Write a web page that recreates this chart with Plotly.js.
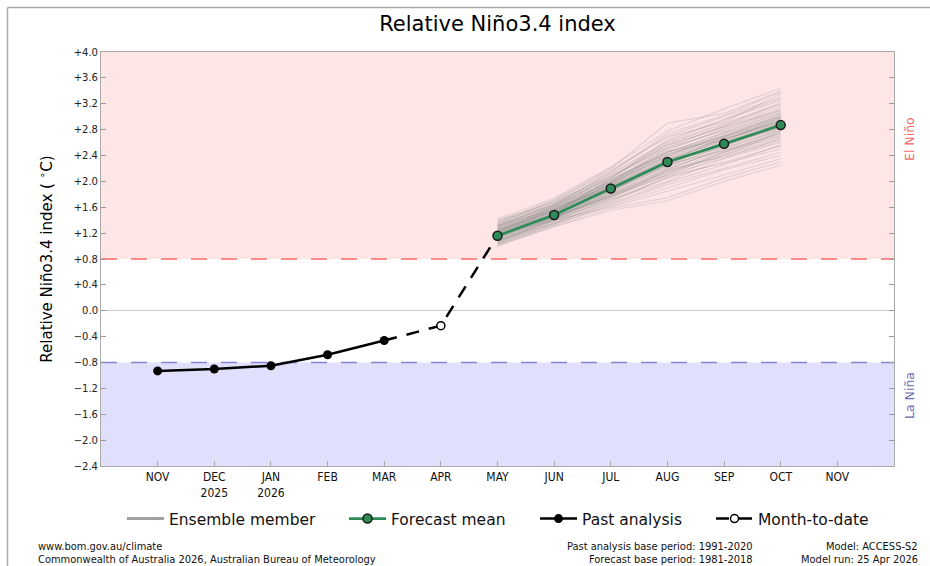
<!DOCTYPE html>
<html>
<head>
<meta charset="utf-8">
<script src="https://cdn.plot.ly/plotly-3.0.1.min.js"></script>
<style>
html,body{margin:0;padding:0;background:#fff;}
#chart{width:930px;height:566px;}
</style>
</head>
<body>
<div id="chart"></div>
<script>
// ---- data ----
var monthKeys = ['Nov 2025','Dec 2025','Jan 2026','Feb 2026','Mar 2026','Apr 2026','May 2026','Jun 2026','Jul 2026','Aug 2026','Sep 2026','Oct 2026','Nov 2026'];
var monthLabels = ['NOV','DEC<br>2025','JAN<br>2026','FEB','MAR','APR','MAY','JUN','JUL','AUG','SEP','OCT','NOV'];

var pastMonths = ['Nov 2025','Dec 2025','Jan 2026','Feb 2026','Mar 2026'];
var pastValues = [-0.93, -0.90, -0.85, -0.68, -0.46];

var mtdMonths = ['Mar 2026','Apr 2026','May 2026'];
var mtdValues = [-0.46, -0.23, 1.16];

var forecastMonths = ['May 2026','Jun 2026','Jul 2026','Aug 2026','Sep 2026','Oct 2026'];
var forecastMean = [1.16, 1.48, 1.89, 2.30, 2.58, 2.87];

var ensembleMembers = [
  [1.18, 1.50, 1.92, 2.35, 2.62, 2.90],
  [1.05, 1.35, 1.70, 2.05, 2.30, 2.55],
  [1.30, 1.65, 2.10, 2.60, 2.90, 3.20],
  [1.12, 1.45, 1.80, 2.20, 2.50, 2.80],
  [1.25, 1.58, 2.00, 2.45, 2.75, 3.05],
  [1.00, 1.30, 1.55, 1.70, 2.00, 2.25],
  [1.38, 1.72, 2.20, 2.90, 3.05, 3.40],
  [1.15, 1.48, 1.88, 2.30, 2.55, 2.85],
  [1.22, 1.55, 1.95, 2.40, 2.70, 3.00],
  [1.08, 1.40, 1.75, 2.10, 2.45, 2.70],
  [1.32, 1.62, 2.05, 2.55, 2.85, 3.15],
  [1.10, 1.42, 1.78, 2.15, 2.40, 2.65],
  [1.20, 1.52, 1.98, 2.50, 2.80, 3.10],
  [1.28, 1.60, 1.90, 2.25, 2.60, 2.95],
  [1.02, 1.33, 1.65, 1.95, 2.20, 2.45],
  [1.35, 1.70, 2.15, 2.70, 3.00, 3.30],
  [1.17, 1.46, 1.85, 2.28, 2.58, 2.88],
  [1.24, 1.56, 1.96, 2.42, 2.68, 2.98],
  [1.06, 1.38, 1.72, 2.00, 2.35, 2.60],
  [1.40, 1.68, 2.08, 2.52, 2.78, 3.08],
  [1.14, 1.44, 1.84, 2.32, 2.65, 2.92],
  [1.26, 1.54, 1.94, 2.38, 2.72, 3.02],
  [1.09, 1.40, 1.60, 1.85, 2.10, 2.35],
  [1.33, 1.66, 2.12, 2.62, 2.95, 3.25],
  [1.19, 1.51, 1.90, 2.34, 2.52, 2.78],
  [1.21, 1.53, 1.93, 2.36, 2.66, 2.94],
  [1.11, 1.43, 1.82, 2.26, 2.48, 2.75],
  [1.29, 1.61, 2.02, 2.48, 2.82, 3.12],
  [1.04, 1.36, 1.68, 2.08, 2.28, 2.50],
  [1.36, 1.69, 2.18, 2.68, 2.92, 3.35],
  [1.16, 1.47, 1.86, 2.22, 2.56, 2.84],
  [1.23, 1.57, 1.99, 2.44, 2.76, 3.06],
  [1.13, 1.45, 1.76, 2.12, 2.42, 2.68],
  [1.27, 1.59, 2.01, 2.46, 2.64, 2.96],
  [1.07, 1.39, 1.74, 2.18, 2.38, 2.62],
  [1.31, 1.64, 2.06, 2.58, 2.88, 3.18],
  [1.18, 1.49, 1.89, 2.29, 2.60, 2.86],
  [1.20, 1.55, 1.97, 2.40, 2.74, 3.00],
  [1.10, 1.41, 1.79, 2.16, 2.46, 2.72],
  [1.42, 1.74, 2.22, 2.78, 3.12, 3.44],
  [1.01, 1.31, 1.58, 1.75, 2.05, 2.30],
  [1.25, 1.52, 1.92, 2.30, 2.68, 3.04],
  [1.14, 1.52, 1.96, 2.46, 2.70, 2.92],
  [1.22, 1.44, 1.80, 2.18, 2.52, 2.82],
  [1.30, 1.58, 1.88, 2.26, 2.62, 3.00],
  [1.06, 1.42, 1.84, 2.34, 2.64, 2.96],
  [1.34, 1.62, 1.98, 2.38, 2.66, 2.90],
  [1.18, 1.40, 1.72, 2.06, 2.40, 2.76],
  [1.12, 1.50, 2.04, 2.64, 2.96, 3.28],
  [1.26, 1.48, 1.82, 2.20, 2.48, 2.74],
  [1.20, 1.60, 2.08, 2.56, 2.84, 3.10],
  [1.08, 1.36, 1.66, 1.98, 2.26, 2.56],
  [1.28, 1.54, 1.86, 2.24, 2.54, 2.86],
  [1.16, 1.56, 2.00, 2.52, 2.86, 3.22],
  [1.24, 1.46, 1.78, 2.14, 2.44, 2.78],
  [1.38, 1.64, 2.04, 2.42, 2.70, 2.98],
  [1.03, 1.34, 1.62, 1.90, 2.18, 2.40],
  [1.32, 1.56, 1.94, 2.32, 2.58, 2.82],
  [1.15, 1.43, 1.76, 2.10, 2.36, 2.66],
  [1.21, 1.63, 2.14, 2.74, 3.02, 3.38]
];

var yTickVals = [-2.4,-2.0,-1.6,-1.2,-0.8,-0.4,0.0,0.4,0.8,1.2,1.6,2.0,2.4,2.8,3.2,3.6,4.0];
var yTickText = ['\u22122.4','\u22122.0','\u22121.6','\u22121.2','\u22120.8','\u22120.4','0.0','+0.4','+0.8','+1.2','+1.6','+2.0','+2.4','+2.8','+3.2','+3.6','+4.0'];
var elNinoThreshold = 0.8;
var laNinaThreshold = -0.8;

// ---- layout helpers (pixel -> paper) ----
var W = 930, H = 566, ML = 101, MR = 36, MT = 52, MB = 100;
var PW = W - ML - MR, PH = H - MT - MB;
function px(x){ return (x - ML) / PW; }
function py(y){ return (H - MB - y) / PH; }

var FONT = 'DejaVu Sans, sans-serif';
var COND = 'DejaVu Sans Condensed, DejaVu Sans, sans-serif';
var FOOT = 11;

var traces = [];
ensembleMembers.forEach(function(m, i){
  traces.push({
    x: forecastMonths, y: m, type: 'scatter', mode: 'lines',
    line: {color: 'rgba(140,140,140,0.24)', width: 1.2},
    hoverinfo: 'skip', showlegend: false
  });
});
// legend entry for ensemble member
traces.push({
  x: [forecastMonths[0]], y: [null], type: 'scatter', mode: 'lines',
  name: 'Ensemble member', line: {color: '#a0a0a0', width: 3},
  legend: 'legend', showlegend: true
});
traces.push({
  x: mtdMonths, y: mtdValues, type: 'scatter', mode: 'lines',
  line: {color: '#000', width: 2.5, dash: '13px,10px'},
  showlegend: false, hoverinfo: 'skip'
});
traces.push({
  x: forecastMonths, y: forecastMean, type: 'scatter', mode: 'lines+markers',
  name: 'Forecast mean',
  line: {color: '#2e8b57', width: 2.8},
  marker: {color: '#2e8b57', size: 9, line: {color: '#1a1a1a', width: 1.5}},
  legend: 'legend2'
});
traces.push({
  x: pastMonths, y: pastValues, type: 'scatter', mode: 'lines+markers',
  name: 'Past analysis',
  line: {color: '#000', width: 2.5},
  marker: {color: '#000', size: 9},
  legend: 'legend3'
});
traces.push({
  x: [mtdMonths[1]], y: [mtdValues[1]], type: 'scatter', mode: 'lines+markers',
  name: 'Month-to-date',
  line: {color: '#000', width: 2.5, dash: '13px,10px'},
  marker: {color: '#fff', size: 8, line: {color: '#000', width: 1.5}},
  legend: 'legend4'
});

function legendAt(xpix){
  return {
    x: px(xpix), xanchor: 'left', y: py(519), yanchor: 'middle',
    orientation: 'h', bgcolor: 'rgba(0,0,0,0)', borderwidth: 0,
    itemwidth: 37,
    font: {family: FONT, size: 15.5, color: '#111'}
  };
}

function foot(text, xpix, ypix, anchor){
  return {text: text, xref: 'paper', yref: 'paper', x: px(xpix), y: py(ypix), xanchor: anchor, yanchor: 'middle',
          showarrow: false, font: {family: COND, size: FOOT, color: '#111'}};
}

var layout = {
  width: W, height: H,
  margin: {l: ML, r: MR, t: MT, b: MB, pad: 0},
  paper_bgcolor: '#fff', plot_bgcolor: '#fff',
  showlegend: true,
  title: {text: 'Relative Niño3.4 index', xref: 'paper', x: px(497.5), xanchor: 'center', yref: 'container', y: 1 - 24/H, yanchor: 'middle',
          font: {family: FONT, size: 21, color: '#000'}},
  xaxis: {
    type: 'category', categoryorder: 'array', categoryarray: monthKeys,
    range: [-1, monthKeys.length],
    tickmode: 'array', tickvals: monthKeys, ticktext: monthLabels,
    ticks: 'inside', ticklen: 5, tickcolor: '#aaa', tickwidth: 1,
    showline: true, linecolor: '#aaa', linewidth: 1, mirror: true,
    showgrid: false, zeroline: false,
    tickfont: {family: COND, size: 12, color: '#111'},
    fixedrange: true
  },
  yaxis: {
    range: [yTickVals[0], yTickVals[yTickVals.length-1]],
    tickmode: 'array', tickvals: yTickVals, ticktext: yTickText,
    ticks: 'inside', ticklen: 5, tickcolor: '#999', tickwidth: 1,
    showline: true, linecolor: '#aaa', linewidth: 1, mirror: 'allticks',
    showgrid: false, zeroline: true, zerolinecolor: '#cccccc', zerolinewidth: 1,
    tickfont: {family: FONT, size: 10, color: '#222'},
    title: {text: 'Relative Niño3.4 index ( <sup>\u2218</sup>C)', standoff: 17, font: {family: FONT, size: 15, color: '#000'}},
    fixedrange: true
  },
  shapes: [
    {type: 'rect', xref: 'paper', x0: 0, x1: 1, yref: 'y', y0: elNinoThreshold, y1: yTickVals[yTickVals.length-1],
     fillcolor: '#ffe6e6', line: {width: 0}, layer: 'below'},
    {type: 'rect', xref: 'paper', x0: 0, x1: 1, yref: 'y', y0: yTickVals[0], y1: laNinaThreshold,
     fillcolor: '#e0e0fd', line: {width: 0}, layer: 'below'},
    {type: 'line', xref: 'paper', x0: 0, x1: 1, yref: 'y', y0: elNinoThreshold, y1: elNinoThreshold,
     line: {color: '#ff6b6b', width: 1.3, dash: '16px,14px'}, layer: 'below'},
    {type: 'line', xref: 'paper', x0: 0, x1: 1, yref: 'y', y0: laNinaThreshold, y1: laNinaThreshold,
     line: {color: '#8585d6', width: 1.3, dash: '16px,14px'}, layer: 'below'},
    // outer frame (top and left)
    {type: 'line', xref: 'paper', yref: 'paper', x0: px(7.5), x1: px(935), y0: py(7.5), y1: py(7.5),
     line: {color: '#aaaaaa', width: 1.5}},
    {type: 'line', xref: 'paper', yref: 'paper', x0: px(7.5), x1: px(7.5), y0: py(7.5), y1: py(570),
     line: {color: '#aaaaaa', width: 1.5}}
  ],
  annotations: [
    {text: 'El Niño', xref: 'paper', yref: 'paper', x: px(909), y: py(139), textangle: -90,
     showarrow: false, font: {family: FONT, size: 12.5, color: '#f06a6a'}, xanchor: 'center', yanchor: 'middle'},
    {text: 'La Niña', xref: 'paper', yref: 'paper', x: px(909), y: py(396), textangle: -90,
     showarrow: false, font: {family: FONT, size: 12.5, color: '#6a6ab0'}, xanchor: 'center', yanchor: 'middle'},
    foot('www.bom.gov.au/climate', 36, 546.5, 'left'),
    foot('Commonwealth of Australia 2026, Australian Bureau of Meteorology', 36, 559.5, 'left'),
    foot('Past analysis base period: 1991-2020', 755, 546.5, 'right'),
    foot('Forecast base period: 1981-2018', 755, 559.5, 'right'),
    foot('Model: ACCESS-S2', 920, 546.5, 'right'),
    foot('Model run: 25 Apr 2026', 920, 559.5, 'right')
  ],
  legend: legendAt(122),
  legend2: legendAt(344),
  legend3: legendAt(535),
  legend4: legendAt(711)
};

Plotly.newPlot('chart', traces, layout, {displayModeBar: false, staticPlot: true});
</script>
</body>
</html>
